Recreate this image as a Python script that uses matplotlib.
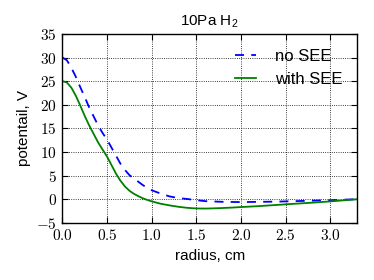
import matplotlib
matplotlib.use("Agg")
import matplotlib.pyplot as plt
from matplotlib.ticker import FuncFormatter, MultipleLocator

plt.rcParams['font.family'] = ['Liberation Sans', 'DejaVu Sans']
plt.rcParams['mathtext.fontset'] = 'cm'

# radius (cm) and potential (V)
r_no = [0.0, 0.05, 0.1, 0.15, 0.2, 0.25, 0.3, 0.35, 0.4, 0.45, 0.5, 0.55, 0.6,
        0.65, 0.7, 0.75, 0.8, 0.85, 0.9, 0.95, 1.0, 1.1, 1.2, 1.3, 1.4, 1.5, 1.6, 1.8,
        2.0, 2.2, 2.4, 2.6, 2.8, 3.0, 3.2, 3.3]
v_no = [30.0, 29.4, 27.8, 25.9, 23.7, 21.6, 19.4, 17.5, 15.6, 14.0, 12.6, 10.9, 9.2,
        7.5, 6.2, 5.1, 4.4, 3.7, 3.0, 2.4, 1.9, 1.2, 0.6, 0.25, 0.05, -0.2, -0.4, -0.55,
        -0.6, -0.55, -0.5, -0.4, -0.3, -0.2, -0.05, 0.0]

r_see = [0.0, 0.05, 0.1, 0.15, 0.2, 0.25, 0.3, 0.35, 0.4, 0.45, 0.5, 0.55, 0.6,
         0.65, 0.7, 0.75, 0.8, 0.85, 0.9, 0.95, 1.0, 1.1, 1.2, 1.3, 1.4, 1.5, 1.6, 1.7, 1.8,
         1.9, 2.0, 2.2, 2.4, 2.6, 2.8, 3.0, 3.2, 3.3]
v_see = [25.0, 24.7, 23.6, 21.9, 19.8, 17.6, 15.6, 13.8, 12.0, 10.5, 9.0, 7.2, 5.4,
         3.9, 2.7, 1.8, 1.15, 0.65, 0.2, -0.15, -0.45, -0.95, -1.3, -1.6, -1.82, -1.95, -1.97, -1.92, -1.85,
         -1.76, -1.65, -1.45, -1.2, -0.95, -0.72, -0.45, -0.15, 0.0]

fig = plt.figure(figsize=(3.74, 2.8), dpi=100)
ax = fig.add_axes([0.167, 0.204, 0.788, 0.675])

ax.plot(r_no, v_no, color='b', ls='--', dashes=(5, 4), lw=1.3, label='no SEE')
ax.plot(r_see, v_see, color='g', lw=1.3, label='with SEE')

ax.set_xlim(0, 3.3)
ax.set_ylim(-5, 35)
ax.xaxis.set_major_locator(MultipleLocator(0.5))
ax.yaxis.set_major_locator(MultipleLocator(5))
ax.xaxis.set_major_formatter(FuncFormatter(lambda v, p: r'$%.1f$' % v))
ax.yaxis.set_major_formatter(FuncFormatter(lambda v, p: r'$%d$' % v))
ax.tick_params(direction='in', top=True, right=True, labelsize=11, length=4, pad=4)
ax.grid(True, color='k', ls=':', lw=0.6)
for s in ax.spines.values():
    s.set_linewidth(1.0)

ax.set_title(r'10Pa H$_\mathregular{2}$', fontsize=11)
ax.set_xlabel('radius, cm', fontsize=11)
ax.set_ylabel('potentail, V', fontsize=11)
ax.legend(loc='upper right', frameon=False, fontsize=12,
          handlelength=1.3, handletextpad=1.1)

fig.savefig('out.png', dpi=100)
